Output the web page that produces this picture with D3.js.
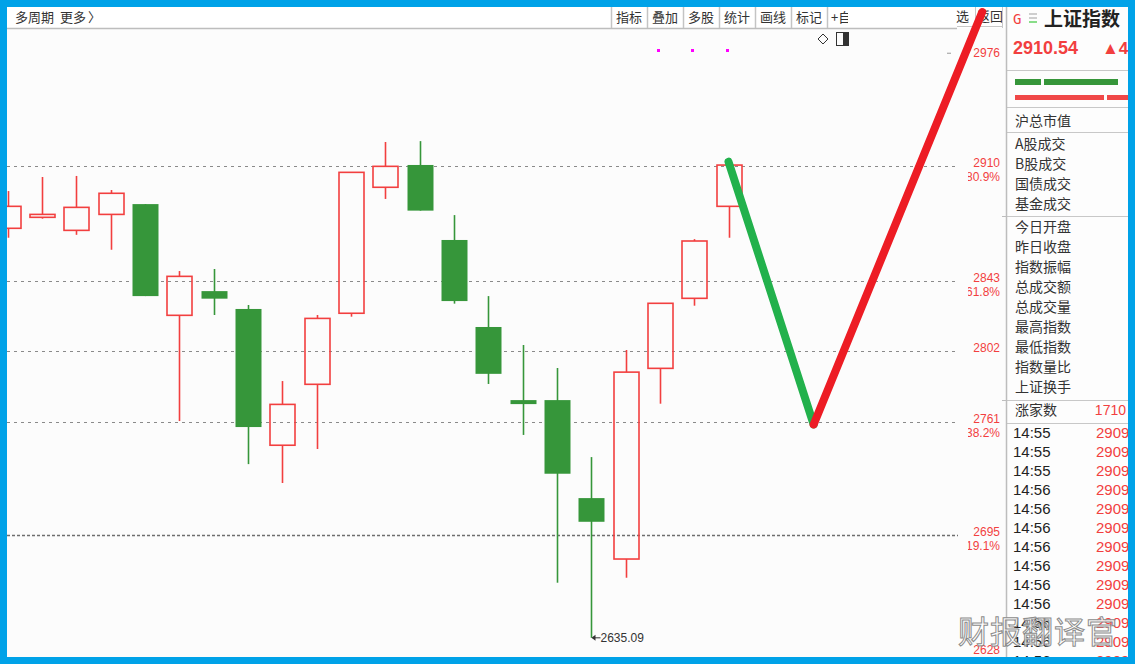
<!DOCTYPE html>
<html><head><meta charset="utf-8">
<script src="https://cdn.jsdelivr.net/npm/d3@7"></script>
<style>body{margin:0;background:#fff;overflow:hidden}svg{display:block}</style>
</head><body><svg id="c" width="1135" height="664"></svg>
<script>
// ---- data ----
const candleIdx = [0,1,2,3,4,5,6,7,8,9,10,11,12,13,14,15,16,17,18,19,20,21];
const opens  = [2873.7,2880.1,2872.5,2881.8,2887.8,2823.0,2837.1,2826.7,2747.3,2782.8,2824.2,2897.6,2910.6,2866.9,2816.2,2773.6,2773.6,2716.5,2681.0,2792.1,2832.9,2886.5];
const closes = [2886.5,2881.8,2885.9,2894.1,2834.2,2845.7,2832.7,2757.9,2771.1,2821.2,2906.3,2909.8,2884.0,2831.3,2788.9,2771.3,2730.7,2702.7,2789.9,2830.0,2866.3,2910.54];
const highs  = [2895.4,2903.6,2904.2,2896.0,2887.8,2848.8,2850.0,2829.0,2784.7,2823.2,2906.3,2924.0,2924.5,2881.4,2834.2,2805.7,2792.3,2740.4,2802.8,2830.0,2867.4,2910.6];
const lows   = [2868.2,2879.3,2869.9,2861.2,2834.2,2761.4,2823.2,2736.3,2725.3,2745.1,2822.2,2890.8,2884.0,2829.8,2783.0,2753.3,2667.2,2635.09,2670.1,2771.5,2828.6,2868.2];
const fibLevels = [2910, 2843, 2802, 2761, 2695];
const fibPcts   = ["80.9%", "61.8%", "", "38.2%", "19.1%"];
const axisLabels = [2976, 2628];
const markerIdx = [19, 20, 21];
const lowMark = {idx: 17, value: 2635.09, text: "2635.09"};
const greenStroke = [[21, 2912.5], [23.48, 2759.4]];
const redStroke   = [[23.48, 2759.4], [28.39, 2999.7]];
const toolbarBtns = ["指标","叠加","多股","统计","画线","标记","+自"];
const infoGroup1 = ["沪总市值"];
const infoGroup2 = ["A股成交","B股成交","国债成交","基金成交"];
const infoGroup3 = ["今日开盘","昨日收盘","指数振幅","总成交额","总成交量","最高指数","最低指数","指数量比","上证换手"];
const tickTimes  = ["14:55","14:55","14:55","14:56","14:56","14:56","14:56","14:56","14:56","14:56","14:56","14:56","14:56"];
const tickPrices = [2909,2909,2909,2909,2909,2909,2909,2909,2909,2909,2909,2909,2909];

// ---- setup ----
const svg = d3.select("#c");
const RED = "#f23f3f", GREEN = "#36963a", BLUE = "#00a2e8";
const CJK = "'Noto Sans CJK SC', sans-serif";
const LAT = "'Liberation Sans', Arial, sans-serif";
const x = d3.scaleLinear().domain([0, 21]).range([7.5, 728.5]);
const y = d3.scaleLinear().domain([2695, 2910]).range([535, 166]);
const bw = 26;

const defs = svg.append("defs");
defs.append("clipPath").attr("id","plot").append("rect").attr("x",7).attr("y",28).attr("width",951).attr("height",629);
defs.append("clipPath").attr("id","pct").append("rect").attr("x",968).attr("y",28).attr("width",40).attr("height",629);
defs.append("clipPath").attr("id","panel").append("rect").attr("x",1007).attr("y",7).attr("width",121).attr("height",650);
defs.append("clipPath").attr("id","tb").append("rect").attr("x",611).attr("y",7).attr("width",237).attr("height",21);

svg.append("rect").attr("width",1135).attr("height",664).attr("fill","#fcfcfc");

// fib lines
const plot = svg.append("g").attr("clip-path","url(#plot)");
plot.selectAll("line.fib").data(fibLevels).join("line")
  .attr("x1",7).attr("x2",958).attr("y1",d=>Math.round(y(d))+0.5).attr("y2",d=>Math.round(y(d))+0.5)
  .attr("stroke", (d,i)=> i===4 ? "#6e6e6e" : "#8a8a8a")
  .attr("stroke-width", (d,i)=> i===4 ? 1.6 : 1.2)
  .attr("stroke-dasharray", (d,i)=> i===4 ? "3,2" : "3,4");

// candles
const cg = plot.selectAll("g.k").data(candleIdx).join("g");
cg.each(function(i){
  const g = d3.select(this);
  const up = closes[i] >= opens[i];
  const cx = Math.round(x(i)) + 0.5;
  const top = y(Math.max(opens[i], closes[i])), bot = y(Math.min(opens[i], closes[i]));
  if (up) {
    g.append("line").attr("x1",cx).attr("x2",cx).attr("y1",y(highs[i])).attr("y2",top).attr("stroke",RED).attr("stroke-width",1.6);
    g.append("line").attr("x1",cx).attr("x2",cx).attr("y1",bot).attr("y2",y(lows[i])).attr("stroke",RED).attr("stroke-width",1.6);
    g.append("rect").attr("x",cx-bw/2+0.5).attr("y",top).attr("width",bw-1).attr("height",Math.max(bot-top,2))
      .attr("fill","none").attr("stroke",RED).attr("stroke-width",1.6);
  } else {
    g.append("line").attr("x1",cx).attr("x2",cx).attr("y1",y(highs[i])).attr("y2",y(lows[i])).attr("stroke",GREEN).attr("stroke-width",1.6);
    g.append("rect").attr("x",cx-bw/2).attr("y",top).attr("width",bw).attr("height",Math.max(bot-top,4)).attr("fill",GREEN);
  }
});

// low annotation
const lx = Math.round(x(lowMark.idx)) + 0.5, ly = y(lowMark.value);
svg.append("line").attr("x1",lx+1).attr("x2",lx+9).attr("y1",ly).attr("y2",ly).attr("stroke","#333").attr("stroke-width",1);
svg.append("path").attr("d",`M${lx},${ly}l4,-3v6z`).attr("fill","#333");
svg.append("text").attr("x",lx+9).attr("y",ly+4).attr("font-family",LAT).attr("font-size",12).attr("fill","#333").text(lowMark.text);

// markers
svg.selectAll("rect.mk").data(markerIdx).join("rect")
  .attr("x",d=>Math.round(x(d))-3).attr("y",49).attr("width",3).attr("height",3).attr("fill","#ff00ff");

// price labels
svg.selectAll("text.lv").data(fibLevels).join("text")
  .attr("x",1000).attr("y",d=>Math.round(y(d))+1).attr("text-anchor","end")
  .attr("font-family",LAT).attr("font-size",12).attr("fill",RED).text(d=>d);
svg.append("g").attr("clip-path","url(#pct)").selectAll("text").data(fibLevels).join("text")
  .attr("x",1000).attr("y",d=>Math.round(y(d))+15).attr("text-anchor","end")
  .attr("font-family",LAT).attr("font-size",12).attr("fill",RED).text((d,i)=>fibPcts[i]);
svg.selectAll("text.ax").data(axisLabels).join("text")
  .attr("x",1000).attr("y",d=>y(d)+4).attr("text-anchor","end")
  .attr("font-family",LAT).attr("font-size",12).attr("fill",RED).text(d=>d);
svg.append("line").attr("x1",947).attr("x2",951).attr("y1",y(2976)+0.5).attr("y2",y(2976)+0.5).attr("stroke","#999");

// chart icons
svg.append("path").attr("d","M823,34 l5,5 l-5,5 l-5,-5 z").attr("fill","none").attr("stroke","#333").attr("stroke-width",1);
svg.append("rect").attr("x",836.5).attr("y",32.5).attr("width",12).attr("height",13).attr("fill","none").attr("stroke","#333");
svg.append("rect").attr("x",843).attr("y",33).attr("width",5).attr("height",12).attr("fill","#333");

// toolbar
svg.append("rect").attr("x",7).attr("y",7).attr("width",1000).attr("height",21).attr("fill","#fff");
svg.append("line").attr("x1",7).attr("x2",957).attr("y1",28.5).attr("y2",28.5).attr("stroke","#bdbdbd").attr("stroke-width",1.5);
svg.append("line").attr("x1",957).attr("x2",1003).attr("y1",26.5).attr("y2",26.5).attr("stroke","#c8c8c8");
svg.append("text").attr("x",15).attr("y",22).attr("font-family",CJK).attr("font-size",13).attr("fill","#333").text("多周期");
svg.append("text").attr("x",60).attr("y",22).attr("font-family",CJK).attr("font-size",13).attr("fill","#333").text("更多");
svg.append("text").attr("x",88).attr("y",22).attr("font-family",CJK).attr("font-size",13).attr("fill","#333").text("〉");
const tb = svg.append("g");
tb.selectAll("line").data(toolbarBtns).join("line")
  .attr("x1",(d,i)=>611.5+i*36).attr("x2",(d,i)=>611.5+i*36).attr("y1",7).attr("y2",28).attr("stroke","#c4c4c4").attr("stroke-width",1.5);
tb.append("g").attr("clip-path","url(#tb)").selectAll("text").data(toolbarBtns).join("text")
  .attr("x",(d,i)=> i<6 ? 629+i*36 : 831).attr("y",22).attr("text-anchor",(d,i)=> i<6 ? "middle" : "start")
  .attr("font-family",CJK).attr("font-size",13).attr("fill","#333").text(d=>d);
svg.append("text").attr("x",956).attr("y",21).attr("font-family",CJK).attr("font-size",13).attr("fill","#333").text("选");
svg.append("line").attr("x1",975.5).attr("x2",975.5).attr("y1",7).attr("y2",26).attr("stroke","#c8c8c8");
svg.append("text").attr("x",977).attr("y",21).attr("font-family",CJK).attr("font-size",13).attr("fill","#333").text("返回");

// right panel
const panel = svg.append("g").attr("clip-path","url(#panel)");
panel.append("rect").attr("x",1007).attr("y",7).attr("width",121).attr("height",650).attr("fill","#fdfdfd");
svg.append("line").attr("x1",1006.5).attr("x2",1006.5).attr("y1",7).attr("y2",657).attr("stroke","#bdbdbd").attr("stroke-width",1.5);
svg.append("line").attr("x1",1002.5).attr("x2",1002.5).attr("y1",7).attr("y2",28).attr("stroke","#c8c8c8");
[216, 400].forEach(v=>svg.append("line").attr("x1",1002).attr("x2",1007).attr("y1",v+0.5).attr("y2",v+0.5).attr("stroke","#bdbdbd"));
panel.append("text").attr("x",1013).attr("y",24).attr("font-family","'DejaVu Sans Mono', monospace").attr("font-size",14).attr("fill",RED).text("G");
[[14,"#b0b0b0"],[18,"#b0b0b0"],[22,"#3cc83c"]].forEach(([yy,c])=>panel.append("line").attr("x1",1029).attr("x2",1037).attr("y1",yy).attr("y2",yy).attr("stroke",c).attr("stroke-width",1.2));
panel.append("text").attr("x",1044).attr("y",26).attr("font-family",CJK).attr("font-size",19).attr("font-weight","bold").attr("fill","#222").text("上证指数");
panel.append("text").attr("x",1013).attr("y",54).attr("font-family",LAT).attr("font-size",18).attr("font-weight","bold").attr("fill",RED).text(closes[21].toFixed(2));
panel.append("text").attr("x",1102).attr("y",54).attr("font-family",LAT).attr("font-size",17).attr("font-weight","bold").attr("fill",RED).text("▲44");
[70,107,132,216,400,423].forEach(v=>panel.append("line").attr("x1",1007).attr("x2",1128).attr("y1",v+0.5).attr("y2",v+0.5).attr("stroke","#c8c8c8").attr("stroke-width",1.2));
panel.append("rect").attr("x",1015).attr("y",79).attr("width",26).attr("height",6).attr("fill",GREEN);
panel.append("rect").attr("x",1044).attr("y",79).attr("width",74).attr("height",6).attr("fill",GREEN);
panel.append("rect").attr("x",1015).attr("y",95).attr("width",89).attr("height",5).attr("fill","#f04848");
panel.append("rect").attr("x",1107).attr("y",95).attr("width",30).attr("height",5).attr("fill","#f04848");
const lab = (arr, y0) => panel.append("g").selectAll("text").data(arr).join("text")
  .attr("x",1015).attr("y",(d,i)=>y0+i*20).attr("font-family",CJK).attr("font-size",14).attr("fill","#333").text(d=>d);
lab(infoGroup1, 126);
lab(infoGroup2, 149);
lab(infoGroup3, 232);
panel.append("text").attr("x",1015).attr("y",415).attr("font-family",CJK).attr("font-size",14).attr("fill","#333").text("涨家数");
panel.append("text").attr("x",1126).attr("y",415).attr("text-anchor","end").attr("font-family",LAT).attr("font-size",14).attr("fill",RED).text("1710");
panel.selectAll("text.tm").data(tickTimes).join("text")
  .attr("x",1013).attr("y",(d,i)=>438+i*19).attr("font-family",LAT).attr("font-size",15).attr("fill","#222").text(d=>d);
panel.selectAll("text.tp").data(tickPrices).join("text")
  .attr("x",1096).attr("y",(d,i)=>438+i*19).attr("font-family",LAT).attr("font-size",15).attr("fill",RED).text(d=>d);

// hand-drawn strokes
const line = d3.line().x(d=>x(d[0])).y(d=>y(d[1]));
svg.append("path").attr("d",line(greenStroke)).attr("fill","none").attr("stroke","#22b14c").attr("stroke-width",8).attr("stroke-linecap","round");
svg.append("path").attr("d",line(redStroke)).attr("fill","none").attr("stroke","#ed1c24").attr("stroke-width",8).attr("stroke-linecap","round");

// border
svg.append("rect").attr("x",0).attr("y",0).attr("width",1135).attr("height",7).attr("fill",BLUE);
svg.append("rect").attr("x",0).attr("y",657).attr("width",1135).attr("height",7).attr("fill",BLUE);
svg.append("rect").attr("x",0).attr("y",0).attr("width",7).attr("height",664).attr("fill",BLUE);
svg.append("rect").attr("x",1128).attr("y",0).attr("width",7).attr("height",664).attr("fill",BLUE);

// watermark
svg.append("text").attr("x",958).attr("y",643).attr("font-family",CJK).attr("font-size",31).attr("letter-spacing",1)
  .attr("fill","#ffffff").attr("fill-opacity",0.85).attr("stroke","#8c8c8c").attr("stroke-width",1).text("财报翻译官");
</script></body></html>
